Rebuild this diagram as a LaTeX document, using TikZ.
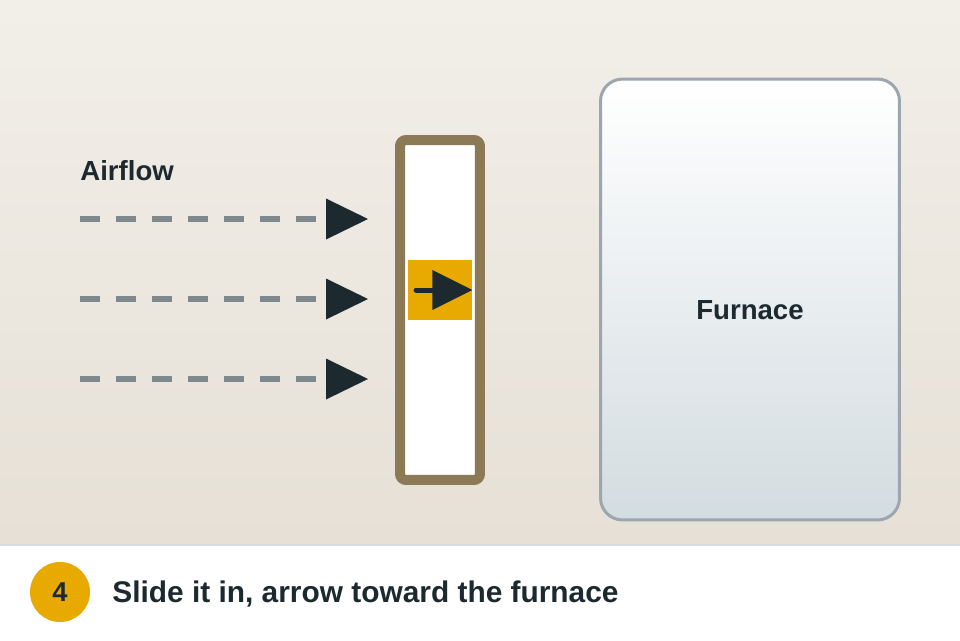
\documentclass[tikz,border=0pt]{standalone}
\usepackage{fontspec}
\setmainfont{Liberation Sans}
\usetikzlibrary{arrows.meta,positioning}

\definecolor{bgtop}{HTML}{F2EFE9}
\definecolor{bgbot}{HTML}{E6E0D6}
\definecolor{dashgray}{HTML}{7E898D}
\definecolor{ink}{HTML}{1C2A30}
\definecolor{frame}{HTML}{8B7A55}
\definecolor{amber}{HTML}{E8A900}
\definecolor{furnaceedge}{HTML}{9BA6AE}
\definecolor{furnacebot}{HTML}{D3DCE0}
\definecolor{stripline}{HTML}{D5DCDF}
\definecolor{halo}{HTML}{DDD6CA}

\begin{document}
\begin{tikzpicture}[x=0.02cm,y=-0.02cm,
    flow/.style={draw=dashgray,line width=0.12cm,dash pattern=on 0.4cm off 0.32cm,
      -{Triangle[length=0.84cm,width=0.82cm,color=ink,line width=0pt]}},
    filterbox/.style={draw=frame,fill=white,line width=0.2cm,rounded corners=0.12cm,
      minimum width=1.6cm,minimum height=6.8cm,inner sep=0pt},
    badge/.style={fill=amber,minimum width=1.28cm,minimum height=1.2cm,inner sep=0pt},
    markarrow/.style={draw=ink,line width=0.1cm,line cap=round,
      -{Triangle[length=0.8cm,width=0.8cm,color=ink,line width=0pt]}},
    furnacebox/.style={draw=furnaceedge,line width=0.06cm,rounded corners=0.44cm,
      top color=white,bottom color=furnacebot,
      minimum width=5.98cm,minimum height=8.82cm,inner sep=0pt},
    lbl/.style={text=ink,inner sep=0pt,font=\fontsize{15.7}{18}\selectfont\bfseries},
    stepdot/.style={circle,fill=amber,minimum size=1.2cm,inner sep=0pt,text=ink,
      font=\fontsize{15.5}{18}\selectfont\bfseries},
    caption/.style={text=ink,inner sep=0pt,font=\fontsize{17}{20}\selectfont\bfseries}]

  \useasboundingbox (0,0) rectangle (960,640);

  % background and caption strip
  \shade[top color=bgtop,bottom color=bgbot] (0,0) rectangle (960,545);
  \fill[white] (0,545) rectangle (960,640);
  \draw[stripline,line width=0.04cm] (0,545) -- (960,545);

  % airflow
  \node[lbl,anchor=base west] (airlabel) at (80,180) {Airflow};
  \foreach \y [count=\i] in {219,299,379} {
    \coordinate (air\i) at (80,\y);
    \coordinate (tip\i) at (368,\y);
    \draw[flow] (air\i) -- (tip\i);
  }

  % filter with its arrow mark
  \node[filterbox] (filter) at (440,310) {};
  \node[badge] (mark) at (440,290) {};
  \coordinate (marktail) at (416,290);
  \draw[markarrow] (marktail) -- (mark.east);

  % furnace
  \node[furnacebox] (furnace) at (750,299.5) {};
  \node[lbl] (furnacelabel) at (750,310) {Furnace};

  % step caption
  \node[stepdot] (num) at (60,592) {4};
  \node[caption,anchor=base west] (cap) at (112,602) {Slide it in, arrow toward the furnace};

\end{tikzpicture}
\end{document}
